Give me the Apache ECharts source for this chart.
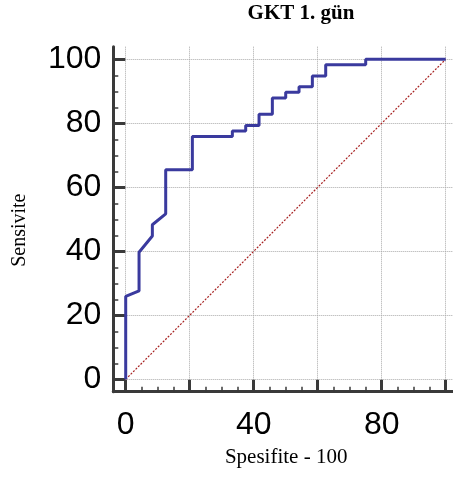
<!DOCTYPE html>
<html>
<head>
<meta charset="utf-8">
<script src="https://cdn.jsdelivr.net/npm/echarts@6/dist/echarts.min.js"></script>
<style>html,body{margin:0;padding:0;background:#fff}#c{width:453px;height:482px}</style>
</head>
<body>
<div id="c"></div>
<script>
// ROC curve points (Spesifite - 100 vs Sensivite)
var rocX = [0, 0, 4.17, 4.17, 8.33, 8.33, 12.5, 12.5, 20.83, 20.83, 33.33, 33.33, 37.5, 37.5, 41.67, 41.67, 45.83, 45.83, 50, 50, 54.17, 54.17, 58.33, 58.33, 62.5, 62.5, 75, 75, 100];
var rocY = [0, 25.9, 27.6, 39.7, 44.8, 48.3, 51.7, 65.5, 65.5, 75.9, 75.9, 77.6, 77.6, 79.3, 79.3, 82.8, 82.8, 87.9, 87.9, 89.7, 89.7, 91.4, 91.4, 94.8, 94.8, 98.3, 98.3, 100, 100];
var diagX = [0, 100];
var diagY = [0, 100];
var xMajorTicks = [0, 20, 40, 60, 80, 100];
var xTickLabels = [0, 40, 80];
var yMajorTicks = [0, 20, 40, 60, 80, 100];
var yTickLabels = [0, 20, 40, 60, 80, 100];
var minorTicks = [5, 10, 15, 25, 30, 35, 45, 50, 55, 65, 70, 75, 85, 90, 95];

var axisColor = '#3a3a3a';
var XMIN = -3.875, XMAX = 102.28, YMIN = -3.875, YMAX = 103.94;
var chart = echarts.init(document.getElementById('c'), null, {renderer: 'canvas'});
function pairs(xs, ys) { return xs.map(function (v, i) { return [v, ys[i]]; }); }
function tickAxis(min, max, pos, vals, len, w) {
  return {
    type: 'value', min: min, max: max, position: pos,
    axisLine: {show: false, onZero: false},
    axisTick: {show: true, inside: true, length: len, customValues: vals, lineStyle: {color: axisColor, width: w}},
    axisLabel: {show: false},
    splitLine: {show: false}
  };
}

chart.setOption({
  animation: false,
  backgroundColor: '#fff',
  title: {
    text: 'GKT 1. gün',
    left: 301, top: 3, textAlign: 'center', padding: 0,
    textStyle: {fontFamily: 'Liberation Serif', fontWeight: 'bold', fontSize: 21, color: '#000'}
  },
  grid: {left: 113.3, right: 0, top: 46.7, bottom: 90.3, containLabel: false},
  xAxis: [{
    type: 'value', min: XMIN, max: XMAX, position: 'bottom',
    axisLine: {show: true, onZero: false, lineStyle: {color: axisColor, width: 3}},
    axisTick: {show: false, customValues: xMajorTicks},
    axisLabel: {show: true, customValues: xTickLabels, margin: 17, fontFamily: 'Liberation Sans', fontSize: 32, color: '#000'},
    splitLine: {show: true, lineStyle: {color: '#aaaaaa', type: 'dotted', width: 1}},
    name: 'Spesifite - 100', nameLocation: 'middle', nameGap: 55,
    nameTextStyle: {fontFamily: 'Liberation Serif', fontSize: 21, color: '#000', padding: [0, 0, 0, 6]}
  }, tickAxis(XMIN, XMAX, 'bottom', xMajorTicks, 12, 3),
     tickAxis(XMIN, XMAX, 'bottom', minorTicks, 5, 1.5)],
  yAxis: [{
    type: 'value', min: YMIN, max: YMAX, position: 'left',
    axisLine: {show: true, onZero: false, lineStyle: {color: axisColor, width: 3}},
    axisTick: {show: false, customValues: yMajorTicks},
    axisLabel: {show: true, customValues: yTickLabels, margin: 12, fontFamily: 'Liberation Sans', fontSize: 32, color: '#000'},
    splitLine: {show: true, lineStyle: {color: '#aaaaaa', type: 'dotted', width: 1}},
    name: 'Sensivite', nameLocation: 'middle', nameGap: 84,
    nameTextStyle: {fontFamily: 'Liberation Serif', fontSize: 20, color: '#000', padding: [0, 22, 0, 0]}
  }, tickAxis(YMIN, YMAX, 'left', yMajorTicks, 12, 3),
     tickAxis(YMIN, YMAX, 'left', minorTicks, 5, 1.5)],
  series: [{
    type: 'line', xAxisIndex: 0, yAxisIndex: 0,
    data: pairs(diagX, diagY), symbol: 'none', silent: true,
    lineStyle: {color: '#a82424', width: 1.2, type: [2, 1.5]}
  }, {
    type: 'line', xAxisIndex: 0, yAxisIndex: 0,
    data: pairs(rocX, rocY), symbol: 'none', silent: true,
    lineStyle: {color: '#3a3a9e', width: 3}
  }]
});
</script>
</body>
</html>
